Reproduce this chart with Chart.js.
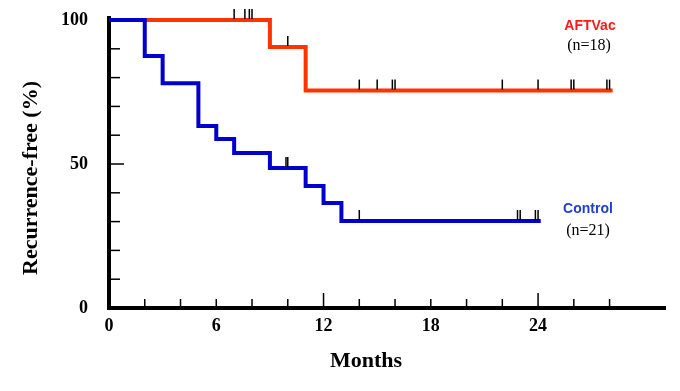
<!DOCTYPE html>
<html>
<head>
<meta charset="utf-8">
<title>Recurrence-free survival</title>
<script src="https://cdn.jsdelivr.net/npm/chart.js@4/dist/chart.umd.min.js"></script>
<style>
  html, body { margin: 0; padding: 0; background: #fff; }
  #wrap { width: 680px; height: 391px; }
</style>
</head>
<body>
<div id="wrap"><canvas id="km" width="680" height="391"></canvas></div>
<script>
// Kaplan-Meier steps (months, % recurrence-free)
const aftvacTimes = [0, 9, 11, 28.17];
const aftvacSurv = [100, 90.6, 75.5, 75.5];
const aftvacCensored = [7.0, 7.6, 7.85, 8.0, 10.0, 14.0, 15.0, 15.85, 16.0, 22.0, 24.0, 25.85, 26.0, 27.85, 28.0];

const controlTimes = [0, 2, 3, 5, 6, 7, 9, 11, 12, 13, 24.15];
const controlSurv = [100, 87.5, 78, 63.2, 58.7, 53.8, 48.6, 42.4, 36.5, 30.2, 30.2];
const controlCensored = [9.9, 10.0, 14.0, 22.85, 23.0, 23.85, 24.0];

const xTickLabels = [0, 6, 12, 18, 24];
const yTickLabels = [0, 50, 100];
const xMinorTicks = [2, 4, 6, 8, 10, 12, 14, 16, 18, 20, 22, 24, 26, 28];
const xMajorTicks = [12, 24];
const yMinorTicks = [10, 20, 30, 40, 50, 60, 70, 80, 90];
const yMajorTicks = [50];

const RED = '#ff3300';
const BLUE = '#0000cc';
const SERIF = '"Liberation Serif", "Times New Roman", serif';
const SANS = '"Liberation Sans", Arial, sans-serif';

const toPoints = (xs, ys) => xs.map((x, i) => ({ x: x, y: ys[i] }));

// value of the step curve at time t
function stepValue(times, surv, t) {
  let v = surv[0];
  for (let i = 0; i < times.length; i++) {
    if (times[i] <= t) v = surv[i];
  }
  return v;
}

const kmExtras = {
  id: 'kmExtras',
  afterDatasetsDraw(chart) {
    const ctx = chart.ctx;
    const xs = chart.scales.x;
    const ys = chart.scales.y;
    const area = chart.chartArea;

    ctx.save();
    ctx.strokeStyle = '#000';
    ctx.lineWidth = 1.5;

    // inward tick marks
    xMinorTicks.forEach(v => {
      const px = xs.getPixelForValue(v);
      const len = xMajorTicks.includes(v) ? 15 : 9;
      ctx.beginPath();
      ctx.moveTo(px, area.bottom);
      ctx.lineTo(px, area.bottom - len);
      ctx.stroke();
    });
    yMinorTicks.forEach(v => {
      const py = ys.getPixelForValue(v);
      const len = yMajorTicks.includes(v) ? 15 : 11;
      ctx.beginPath();
      ctx.moveTo(area.left, py);
      ctx.lineTo(area.left + len, py);
      ctx.stroke();
    });

    // censor marks
    const drawCensors = (times, surv, cens) => {
      cens.forEach(t => {
        const px = xs.getPixelForValue(t);
        const py = ys.getPixelForValue(stepValue(times, surv, t));
        ctx.beginPath();
        ctx.moveTo(px, py - 1);
        ctx.lineTo(px, py - 11);
        ctx.stroke();
      });
    };
    drawCensors(aftvacTimes, aftvacSurv, aftvacCensored);
    drawCensors(controlTimes, controlSurv, controlCensored);

    // group labels
    ctx.textAlign = 'center';
    ctx.textBaseline = 'middle';
    ctx.font = 'bold 14px ' + SANS;
    ctx.fillStyle = '#ff1a1a';
    ctx.fillText('AFTVac', 590, 26);
    ctx.fillStyle = '#1f3fd0';
    ctx.fillText('Control', 588, 209);
    ctx.font = '16px ' + SERIF;
    ctx.fillStyle = '#000';
    ctx.fillText('(n=18)', 589, 46);
    ctx.fillText('(n=21)', 588, 231);

    // axis titles
    ctx.font = 'bold 22px ' + SERIF;
    ctx.fillText('Months', 366, 361);
    ctx.translate(31, 178);
    ctx.rotate(-Math.PI / 2);
    ctx.fillText('Recurrence-free (%)', 0, 0);
    ctx.restore();
  }
};

new Chart(document.getElementById('km'), {
  type: 'line',
  data: {
    datasets: [
      {
        label: 'Control',
        data: toPoints(controlTimes, controlSurv),
        borderColor: BLUE,
        borderWidth: 4,
        stepped: 'before',
        pointRadius: 0,
        borderCapStyle: 'butt',
        borderJoinStyle: 'miter',
        fill: false
      },
      {
        label: 'AFTVac',
        data: toPoints(aftvacTimes, aftvacSurv),
        borderColor: RED,
        borderWidth: 4,
        stepped: 'before',
        pointRadius: 0,
        borderCapStyle: 'butt',
        borderJoinStyle: 'miter',
        fill: false
      }
    ]
  },
  options: {
    responsive: false,
    animation: false,
    layout: { padding: { left: 0, right: 15, top: 18, bottom: 0 } },
    plugins: {
      legend: { display: false },
      tooltip: { enabled: false }
    },
    scales: {
      x: {
        type: 'linear',
        min: 0,
        max: 31.1,
        grid: { display: true, drawOnChartArea: false, drawTicks: false },
        border: { display: true, color: '#000', width: 4 },
        afterBuildTicks: s => { s.ticks = xTickLabels.map(v => ({ value: v })); },
        afterFit: s => { s.height = 83; s.paddingLeft = 0; s.paddingRight = 0; },
        ticks: {
          autoSkip: false,
          maxRotation: 0,
          padding: 8,
          color: '#000',
          font: { family: SERIF, size: 18, weight: 'bold' }
        }
      },
      y: {
        type: 'linear',
        min: 0,
        max: 100.7,
        grid: { display: true, drawOnChartArea: false, drawTicks: false },
        border: { display: true, color: '#000', width: 4 },
        afterBuildTicks: s => { s.ticks = yTickLabels.map(v => ({ value: v })); },
        afterFit: s => { s.width = 109; s.paddingTop = 0; s.paddingBottom = 0; },
        ticks: {
          autoSkip: false,
          padding: 21,
          color: '#000',
          font: { family: SERIF, size: 18, weight: 'bold' }
        }
      }
    }
  },
  plugins: [kmExtras]
});
</script>
</body>
</html>
